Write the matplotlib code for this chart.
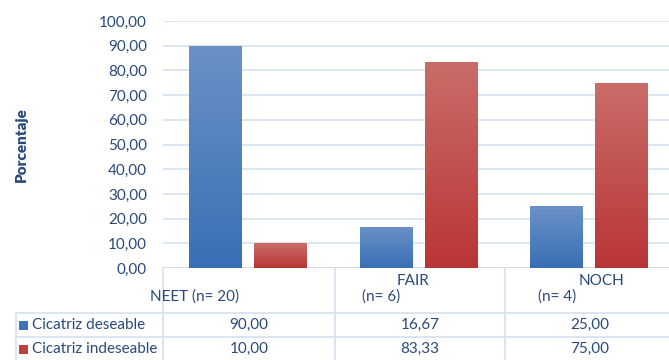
import matplotlib
matplotlib.use("Agg")
import matplotlib.pyplot as plt
import numpy as np
from matplotlib.colors import LinearSegmentedColormap
from matplotlib.lines import Line2D
from matplotlib.patches import Rectangle

categories_top = ["", "FAIR", "NOCH"]
categories_bottom = ["NEET (n= 20)", "(n= 6)", "(n= 4)"]
series_names = ["Cicatriz deseable", "Cicatriz indeseable"]
deseable = [90.00, 16.67, 25.00]
indeseable = [10.00, 83.33, 75.00]
yticks = [0, 10, 20, 30, 40, 50, 60, 70, 80, 90, 100]

plt.rcParams['font.family'] = ['Lato', 'DejaVu Sans']
W, H = 669, 360
fig = plt.figure(figsize=(W / 100, H / 100), dpi=100)

def fx(px):
    return px / W

def fy(py):
    return 1 - py / H

ax_left, ax_right, ax_top, ax_bot = 163, 669, 21, 268
ax = fig.add_axes([fx(ax_left), fy(ax_bot), fx(ax_right - ax_left), (ax_bot - ax_top) / H])
unit = 170.5
xlim = (-0.5, -0.5 + (ax_right - ax_left) / unit)

text_col = '#284A7A'
grid_col = '#D6E1F0'
fs = 11

for s in ax.spines.values():
    s.set_visible(False)
ax.set_xticks([])
ax.set_yticks(yticks)
ax.set_yticklabels([f"{v:.2f}".replace('.', ',') for v in yticks], color=text_col, fontsize=fs)
ax.tick_params(axis='y', length=0, pad=11.5)
ax.yaxis.grid(True, color=grid_col, linewidth=1.2)
ax.set_axisbelow(True)
ax.axhline(0, color='#D0D8E4', linewidth=1.2, zorder=1)

blue_cmap = LinearSegmentedColormap.from_list('b', ['#3A6FB5', '#6A91C8'])
red_cmap = LinearSegmentedColormap.from_list('r', ['#B93535', '#C96D69'])

x = np.arange(len(deseable))
bw = 0.31
off = 0.19
grad = np.linspace(0, 1, 256).reshape(-1, 1)
for vals, sign, cmap in [(deseable, -1, blue_cmap), (indeseable, 1, red_cmap)]:
    bars = ax.bar(x + sign * off, vals, width=bw, color='none', edgecolor='none', zorder=2)
    for b in bars:
        x0, y0 = b.get_x(), b.get_y()
        w, h = b.get_width(), b.get_height()
        im = ax.imshow(grad, cmap=cmap, origin='lower', aspect='auto',
                       extent=[x0, x0 + w, y0, y0 + h], zorder=2)
        im.set_clip_path(b)

ax.set_xlim(*xlim)
ax.set_ylim(0, 100)

fig.text(fx(21), fy(145), "Porcentaje", rotation=90, ha='center', va='center',
         fontsize=11, fontweight='heavy', color=text_col)

# data table
col_edges = [163, 335, 505]
col_centers = [249, 420, 590]
tbl_col = '#D6E1F0'

def fline(x0, y0, x1, y1):
    fig.add_artist(Line2D([fx(x0), fx(x1)], [fy(y0), fy(y1)], color=tbl_col, linewidth=1.2))

for xe in col_edges:
    fline(xe, 268, xe, 360)
fline(16, 313, 16, 360)
fline(16, 313, 669, 313)
fline(16, 337, 669, 337)

fig.text(fx(150), fy(297), categories_bottom[0], ha='left', va='center', fontsize=fs, color=text_col)
fig.text(fx(413), fy(281), categories_top[1], ha='center', va='center', fontsize=fs, color=text_col)
fig.text(fx(362), fy(297), categories_bottom[1], ha='left', va='center', fontsize=fs, color=text_col)
fig.text(fx(601), fy(281), categories_top[2], ha='center', va='center', fontsize=fs, color=text_col)
fig.text(fx(538), fy(297), categories_bottom[2], ha='left', va='center', fontsize=fs, color=text_col)

row_y = [325, 349]
key_cols = ['#3F73B7', '#BE4040']
for r, (name, vals) in enumerate(zip(series_names, [deseable, indeseable])):
    yy = row_y[r]
    fig.add_artist(Rectangle((fx(19), fy(yy + 4.5)), fx(9), 9 / H, facecolor=key_cols[r], edgecolor='none'))
    fig.text(fx(32), fy(yy), name, ha='left', va='center', fontsize=fs, color=text_col)
    for c, v in enumerate(vals):
        fig.text(fx(col_centers[c]), fy(yy), f"{v:.2f}".replace('.', ','), ha='center', va='center',
                 fontsize=fs, color=text_col)

fig.savefig("out.png", dpi=100)
